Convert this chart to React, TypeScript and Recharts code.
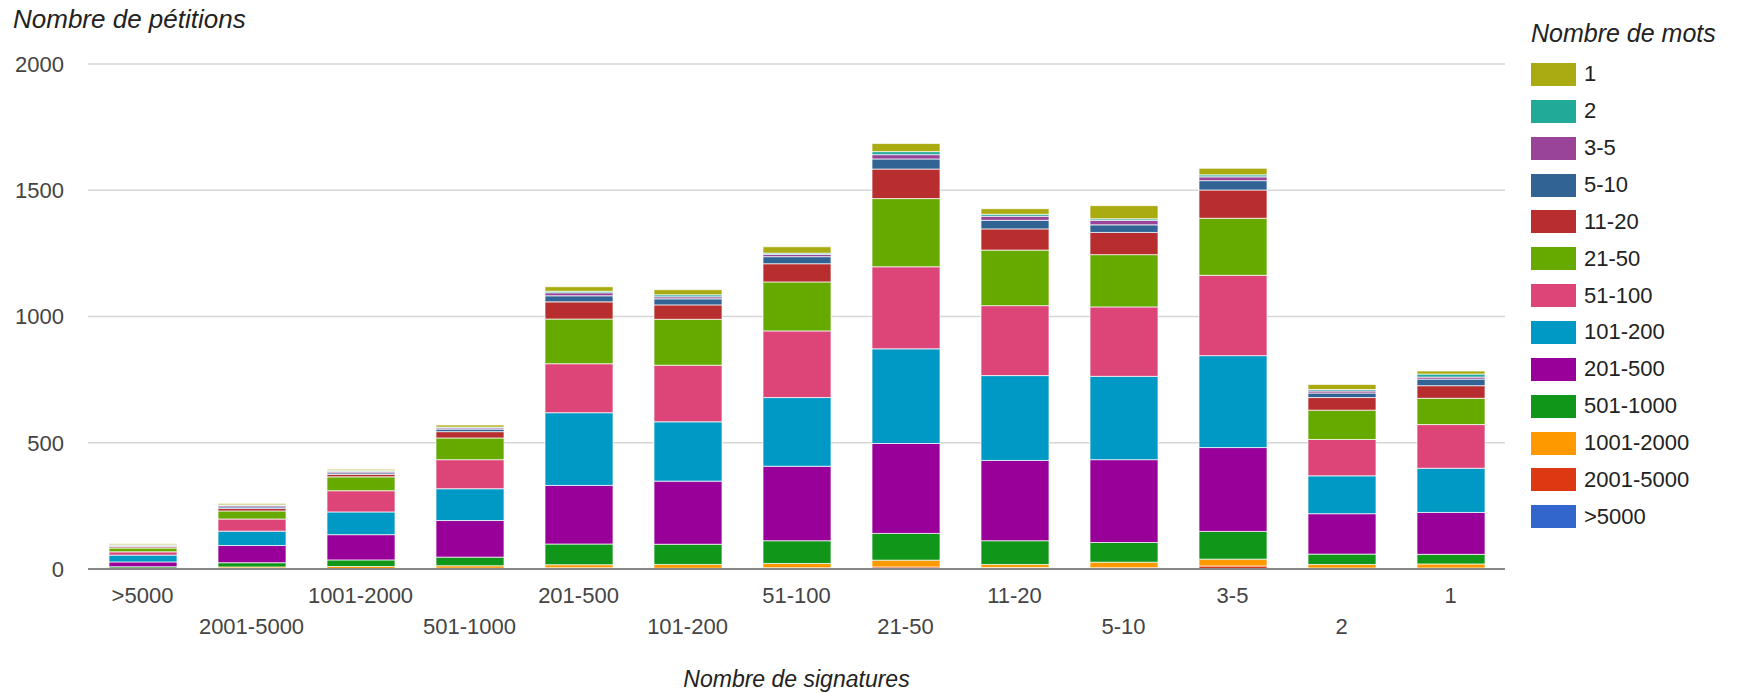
import { BarChart, Bar, XAxis, YAxis, CartesianGrid } from "recharts";

// Nombre de signatures (x categories)
const categories = [">5000", "2001-5000", "1001-2000", "501-1000", "201-500", "101-200", "51-100", "21-50", "11-20", "5-10", "3-5", "2", "1"];

// Nombre de pétitions par tranche de nombre de mots (stack order, bottom to top)
const wGt5000 = [0, 0, 0, 0, 0, 0, 0, 0, 0, 0, 0, 0, 0];
const w2001_5000 = [1, 1, 2, 3, 5, 3, 5, 8, 6, 5, 12, 4, 4];
const w1001_2000 = [2, 7, 8, 10, 12, 15, 17, 27, 12, 22, 27, 14, 16];
const w501_1000 = [6, 17, 26, 34, 82, 80, 90, 106, 94, 78, 110, 41, 38];
const w201_500 = [19, 68, 100, 145, 232, 250, 295, 356, 318, 328, 332, 160, 166];
const w101_200 = [27, 57, 90, 126, 288, 235, 272, 375, 336, 330, 364, 150, 175];
const w51_100 = [13, 48, 84, 115, 194, 224, 264, 325, 277, 275, 318, 144, 173];
const w21_50 = [15, 32, 55, 86, 177, 182, 194, 270, 220, 207, 226, 116, 104];
const w11_20 = [5, 10, 10, 25, 68, 57, 72, 117, 84, 88, 112, 50, 50];
const w5_10 = [3, 6, 6, 10, 24, 24, 28, 40, 34, 30, 37, 18, 26];
const w3_5 = [3, 5, 5, 5, 12, 8, 9, 17, 16, 18, 15, 8, 8];
const w2 = [2, 3, 4, 3, 6, 8, 5, 12, 8, 6, 8, 6, 12];
const w1 = [4, 5, 5, 8, 18, 20, 25, 32, 22, 52, 26, 20, 12];

const yTicks = [0, 500, 1000, 1500, 2000];

const series = [
  { key: ">5000", color: "#3366CC", values: wGt5000 },
  { key: "2001-5000", color: "#DC3912", values: w2001_5000 },
  { key: "1001-2000", color: "#FF9900", values: w1001_2000 },
  { key: "501-1000", color: "#109618", values: w501_1000 },
  { key: "201-500", color: "#990099", values: w201_500 },
  { key: "101-200", color: "#0099C6", values: w101_200 },
  { key: "51-100", color: "#DD4477", values: w51_100 },
  { key: "21-50", color: "#66AA00", values: w21_50 },
  { key: "11-20", color: "#B82E2E", values: w11_20 },
  { key: "5-10", color: "#316395", values: w5_10 },
  { key: "3-5", color: "#994499", values: w3_5 },
  { key: "2", color: "#22AA99", values: w2 },
  { key: "1", color: "#AAAA11", values: w1 },
];

const data = categories.map((cat, i) => {
  const row: Record<string, string | number> = { cat };
  series.forEach((s) => {
    row[s.key] = s.values[i];
  });
  return row;
});

const FONT = '"Liberation Sans", Arial, sans-serif';

function StaggeredTick(props: any) {
  const { x, y, payload, index } = props;
  const dy = index % 2 === 0 ? 26 : 57;
  return (
    <text x={x} y={y + dy} textAnchor="middle" fontSize={22} fill="#444" fontFamily={FONT}>
      {payload.value}
    </text>
  );
}

export default function App() {
  const legendItems = [...series].reverse();
  return (
    <div
      style={{
        position: "absolute",
        left: 0,
        top: 0,
        width: 1744,
        height: 693,
        background: "#fff",
        fontFamily: FONT,
      }}
    >
      <BarChart
        width={1744}
        height={693}
        data={data}
        margin={{ top: 64, right: 239, bottom: 24, left: 0 }}
        barSize={68}
      >
        <CartesianGrid vertical={false} stroke="#d6d6d6" strokeWidth={1.5} />
        <XAxis
          dataKey="cat"
          interval={0}
          height={100}
          tickLine={false}
          axisLine={{ stroke: "#888", strokeWidth: 2 }}
          tick={<StaggeredTick />}
        />
        <YAxis
          domain={[0, 2000]}
          ticks={yTicks}
          width={88}
          axisLine={false}
          tickLine={false}
          tickMargin={18}
          tick={{ fontSize: 22, fill: "#444", fontFamily: FONT }}
        />
        {series.map((s) => (
          <Bar
            key={s.key}
            dataKey={s.key}
            stackId="a"
            fill={s.color}
            stroke="#ffffff"
            strokeOpacity={0.7}
            strokeWidth={1}
            isAnimationActive={false}
          />
        ))}
      </BarChart>

      <div
        style={{
          position: "absolute",
          left: 13,
          top: 4,
          fontSize: 26,
          fontStyle: "italic",
          color: "#222",
          whiteSpace: "nowrap",
        }}
      >
        Nombre de pétitions
      </div>

      <div
        style={{
          position: "absolute",
          left: 0,
          width: 1593,
          top: 666,
          textAlign: "center",
          fontSize: 23,
          fontStyle: "italic",
          color: "#222",
          whiteSpace: "nowrap",
        }}
      >
        Nombre de signatures
      </div>

      <div style={{ position: "absolute", left: 1531, top: 21 }}>
        <div
          style={{
            fontSize: 25,
            lineHeight: "25px",
            fontStyle: "italic",
            color: "#222",
            whiteSpace: "nowrap",
            height: 35,
          }}
        >
          Nombre de mots
        </div>
        {legendItems.map((s) => (
          <div key={s.key} style={{ display: "flex", alignItems: "center", height: 36.86 }}>
            <span style={{ width: 45, height: 23, background: s.color, display: "inline-block" }} />
            <span style={{ marginLeft: 8, fontSize: 22, lineHeight: "22px", color: "#222", whiteSpace: "nowrap" }}>
              {s.key}
            </span>
          </div>
        ))}
      </div>
    </div>
  );
}
